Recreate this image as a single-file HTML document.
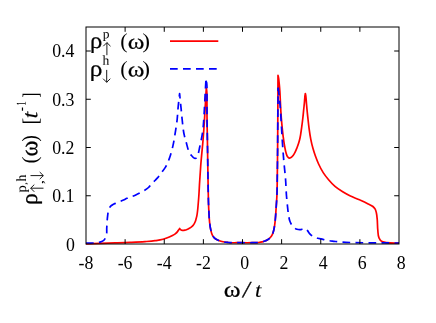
<!DOCTYPE html>
<html lang="en"><head><meta charset="utf-8"><title>Spectral density chart</title><style>
html,body{margin:0;padding:0;background:#fff;}
svg{display:block;will-change:transform}
text{font-family:"Liberation Serif",serif;fill:#000}
</style></head><body>
<svg width="436" height="323" viewBox="0 0 436 323">
<rect width="436" height="323" fill="#fff"/>
<g fill="none" stroke-linejoin="round" stroke-linecap="butt">
<path d="M86.00,243.80 C90.67,243.63 95.33,243.45 100.00,243.30 C105.00,243.14 110.00,243.05 115.00,242.90 C120.00,242.75 125.00,242.62 130.00,242.40 C135.00,242.18 140.01,241.98 145.00,241.60 C148.34,241.35 151.69,241.15 155.00,240.70 C157.68,240.33 160.40,240.02 163.00,239.30 C165.15,238.71 167.26,237.90 169.30,237.00 C170.55,236.45 171.81,235.88 173.00,235.20 C173.86,234.71 174.74,234.22 175.50,233.60 C176.23,233.01 176.90,232.32 177.50,231.60 C177.97,231.03 178.38,230.41 178.80,229.80 C179.09,229.37 179.37,228.93 179.65,228.50 C179.97,228.87 180.22,229.31 180.60,229.60 C180.92,229.85 181.31,230.07 181.70,230.20 C182.11,230.34 182.57,230.38 183.00,230.40 C183.60,230.43 184.21,230.32 184.80,230.20 C185.55,230.05 186.29,229.78 187.00,229.50 C187.83,229.17 188.63,228.75 189.40,228.30 C190.13,227.88 190.85,227.42 191.50,226.90 C192.07,226.44 192.63,225.95 193.10,225.40 C193.56,224.85 193.94,224.22 194.30,223.60 C194.68,222.93 195.02,222.22 195.30,221.50 C195.64,220.63 195.85,219.70 196.10,218.80 C196.35,217.90 196.60,217.01 196.80,216.10 C197.21,214.26 197.38,212.37 197.60,210.50 C197.86,208.34 198.01,206.17 198.20,204.00 C198.46,201.00 198.70,198.00 198.90,195.00 C199.15,191.34 199.28,187.67 199.50,184.00 C199.85,178.00 200.25,172.00 200.70,166.00 C201.38,157.06 202.40,148.14 203.10,139.20 C203.71,131.47 204.22,123.74 204.70,116.00 C205.03,110.67 205.29,105.33 205.60,100.00 C205.83,96.00 206.07,92.00 206.30,88.00 C206.45,89.00 206.63,90.00 206.75,91.00 C207.10,93.98 206.90,97.00 206.95,100.00 C207.03,105.33 206.95,110.67 207.00,116.00 C207.07,124.00 207.27,132.00 207.40,140.00 C207.54,148.67 207.66,157.33 207.80,166.00 C207.93,174.00 208.03,182.00 208.20,190.00 C208.29,194.33 208.35,198.67 208.50,203.00 C208.61,206.00 208.73,209.00 208.90,212.00 C209.09,215.44 209.20,218.89 209.60,222.30 C209.90,224.88 210.18,227.48 210.80,230.00 C211.25,231.83 211.56,233.79 212.50,235.40 C213.00,236.25 213.60,237.11 214.30,237.80 C215.23,238.72 216.43,239.41 217.60,240.00 C218.94,240.68 220.44,241.11 221.90,241.50 C223.98,242.06 226.16,242.27 228.30,242.50 C232.17,242.91 236.10,242.67 240.00,242.70 C244.00,242.73 248.00,242.78 252.00,242.70 C254.17,242.66 256.35,242.74 258.50,242.50 C259.74,242.36 260.99,242.20 262.20,241.90 C263.15,241.66 264.10,241.37 265.00,241.00 C265.89,240.63 266.78,240.21 267.60,239.70 C268.38,239.21 269.14,238.64 269.80,238.00 C270.43,237.40 271.02,236.72 271.50,236.00 C272.04,235.20 272.44,234.30 272.80,233.40 C273.24,232.31 273.52,231.15 273.80,230.00 C274.15,228.55 274.37,227.07 274.60,225.60 C274.91,223.58 275.10,221.54 275.30,219.50 C275.67,215.81 275.85,212.10 276.10,208.40 C276.38,204.27 276.70,200.14 276.90,196.00 C277.23,189.01 277.19,182.00 277.30,175.00 C277.43,166.67 277.52,158.33 277.60,150.00 C277.70,140.00 277.74,130.00 277.80,120.00 C277.89,105.10 277.93,90.20 278.00,75.30 C278.18,76.20 278.40,77.10 278.55,78.00 C278.75,79.16 278.86,80.33 279.00,81.50 C279.19,83.16 279.35,84.83 279.50,86.50 C279.66,88.33 279.78,90.17 279.90,92.00 C280.05,94.33 280.13,96.67 280.25,99.00 C280.47,103.33 280.62,107.67 280.90,112.00 C281.15,115.90 281.45,119.80 281.80,123.70 C282.17,127.84 282.57,131.98 283.10,136.10 C283.53,139.47 283.96,142.86 284.60,146.20 C285.04,148.48 285.38,150.80 286.10,153.00 C286.50,154.22 286.72,155.62 287.50,156.60 C287.96,157.18 288.54,157.99 289.20,158.10 C289.74,158.19 290.46,157.87 291.00,157.60 C291.86,157.17 292.49,156.27 293.10,155.50 C293.87,154.54 294.43,153.40 295.00,152.30 C295.77,150.82 296.38,149.25 297.00,147.70 C297.58,146.25 298.13,144.79 298.60,143.30 C299.10,141.72 299.52,140.11 299.90,138.50 C300.73,134.99 301.09,131.37 301.60,127.80 C302.09,124.37 302.51,120.94 302.90,117.50 C303.24,114.50 303.49,111.50 303.80,108.50 C303.96,106.93 304.15,105.37 304.30,103.80 C304.45,102.17 304.55,100.53 304.70,98.90 C304.81,97.67 304.87,96.42 305.05,95.20 C305.14,94.63 305.25,94.07 305.35,93.50 C305.47,94.07 305.60,94.63 305.70,95.20 C305.91,96.42 305.98,97.67 306.10,98.90 C306.26,100.53 306.36,102.17 306.50,103.80 C306.63,105.37 306.76,106.93 306.90,108.50 C307.18,111.57 307.52,114.63 307.85,117.70 C308.21,121.07 308.55,124.44 309.00,127.80 C309.51,131.64 310.04,135.50 310.80,139.30 C311.42,142.42 312.13,145.54 313.00,148.60 C313.74,151.19 314.58,153.76 315.50,156.30 C316.44,158.90 317.44,161.49 318.60,164.00 C319.96,166.95 321.44,169.88 323.20,172.60 C324.81,175.09 326.68,177.44 328.60,179.70 C330.60,182.05 332.67,184.39 335.00,186.40 C337.36,188.44 340.04,190.15 342.70,191.80 C345.18,193.33 347.77,194.74 350.40,196.00 C352.88,197.19 355.48,198.10 358.00,199.20 C358.83,199.56 359.67,199.93 360.50,200.30 C363.10,201.47 365.67,202.70 368.20,204.00 C369.78,204.81 371.58,205.36 372.90,206.50 C373.78,207.26 374.63,208.19 375.20,209.20 C375.84,210.33 376.09,211.71 376.40,213.00 C376.89,215.02 376.99,217.13 377.20,219.20 C377.57,222.78 377.40,226.42 377.80,230.00 C378.09,232.61 377.87,235.50 379.00,237.80 C379.60,239.02 380.37,240.40 381.40,241.20 C382.78,242.27 384.98,242.25 386.80,242.60 C390.78,243.36 394.93,243.00 399.00,243.20" stroke="#ff0000" stroke-width="1.7"/>
<g stroke="#0000ff" stroke-width="1.7" stroke-dasharray="7.7 5.3"><path d="M86.00,243.00 C88.33,243.00 90.67,243.07 93.00,243.00 C94.33,242.96 95.69,243.04 97.00,242.80 C97.67,242.68 98.34,242.49 99.00,242.30 C100.36,241.92 101.88,241.68 103.00,240.90 C104.07,240.15 104.93,238.92 105.60,237.80 C107.40,234.80 106.47,230.61 106.80,227.00 C107.13,223.37 107.09,219.70 107.60,216.10 C107.89,214.06 108.00,211.92 108.70,210.00 C109.20,208.64 109.71,207.12 110.70,206.10 C111.33,205.45 112.20,204.98 113.00,204.50 C113.98,203.91 115.06,203.48 116.10,203.00 C118.52,201.89 121.08,201.11 123.50,200.00 C124.68,199.46 125.82,198.83 127.00,198.30 C129.69,197.09 132.61,196.40 135.30,195.20 C137.59,194.18 139.84,193.06 142.00,191.80 C144.24,190.50 146.64,189.29 148.50,187.50 C149.33,186.70 150.02,185.76 150.80,184.90 C152.16,183.40 153.61,181.98 155.00,180.50 C156.17,179.26 157.41,178.06 158.50,176.75 C159.62,175.40 160.57,173.92 161.60,172.50 C162.90,170.70 164.36,168.99 165.50,167.10 C167.09,164.45 168.22,161.50 169.30,158.60 C170.24,156.05 170.99,153.42 171.70,150.80 C172.39,148.26 172.98,145.68 173.50,143.10 C174.05,140.38 174.46,137.64 174.90,134.90 C175.71,129.94 176.55,124.99 177.10,120.00 C177.56,115.88 177.71,111.73 178.10,107.60 C178.53,102.96 179.10,98.33 179.60,93.70 C180.07,98.33 180.54,102.97 181.00,107.60 C181.41,111.73 181.73,115.87 182.20,120.00 C182.77,124.98 183.13,130.01 184.20,134.90 C184.80,137.66 185.63,140.38 186.40,143.10 C187.13,145.68 187.59,148.38 188.70,150.80 C189.40,152.32 190.18,153.87 191.20,155.20 C191.80,155.98 192.42,156.81 193.20,157.40 C193.80,157.85 194.54,158.54 195.20,158.50 C195.73,158.47 196.39,158.01 196.80,157.60 C197.38,157.02 197.51,156.02 197.80,155.20 C198.21,154.03 198.46,152.81 198.75,151.60 C199.07,150.24 199.31,148.86 199.60,147.50 C199.89,146.16 200.21,144.84 200.50,143.50 C201.35,139.52 202.15,135.53 202.70,131.50 C203.26,127.36 203.49,123.17 203.80,119.00 C204.14,114.34 204.35,109.67 204.60,105.00 C204.81,101.00 204.99,97.00 205.20,93.00 C205.42,88.93 205.67,84.87 205.90,80.80"/><path d="M205.90,80.80 C206.12,81.30 206.39,81.79 206.55,82.30 C206.87,83.31 206.81,84.43 206.90,85.50 C207.17,88.65 206.98,91.83 207.00,95.00 C207.05,102.00 206.95,109.00 207.00,116.00 C207.06,124.00 207.27,132.00 207.40,140.00 C207.54,148.67 207.66,157.33 207.80,166.00 C207.93,174.00 208.03,182.00 208.20,190.00 C208.29,194.33 208.35,198.67 208.50,203.00 C208.61,206.00 208.73,209.00 208.90,212.00 C209.09,215.44 209.20,218.89 209.60,222.30 C209.90,224.88 210.18,227.48 210.80,230.00 C211.25,231.83 211.56,233.79 212.50,235.40 C213.00,236.25 213.60,237.11 214.30,237.80 C215.23,238.72 216.43,239.41 217.60,240.00 C218.94,240.68 220.44,241.11 221.90,241.50 C223.98,242.06 226.16,242.27 228.30,242.50 C232.17,242.91 236.10,242.67 240.00,242.70 C244.00,242.73 248.00,242.78 252.00,242.70 C254.17,242.66 256.35,242.74 258.50,242.50 C259.74,242.36 260.99,242.20 262.20,241.90 C263.15,241.66 264.10,241.37 265.00,241.00 C265.89,240.63 266.78,240.21 267.60,239.70 C268.38,239.21 269.14,238.64 269.80,238.00 C270.43,237.40 271.02,236.72 271.50,236.00 C272.04,235.20 272.44,234.30 272.80,233.40 C273.24,232.31 273.52,231.15 273.80,230.00 C274.15,228.55 274.37,227.07 274.60,225.60 C274.91,223.58 275.10,221.54 275.30,219.50 C275.67,215.81 275.85,212.10 276.10,208.40 C276.38,204.27 276.70,200.14 276.90,196.00 C277.23,189.01 277.19,182.00 277.30,175.00 C277.43,166.67 277.52,158.33 277.60,150.00 C277.70,140.00 277.71,130.00 277.80,120.00 C277.90,109.23 278.07,98.47 278.20,87.70"/><path d="M278.20,87.70 C278.67,91.80 279.20,95.89 279.60,100.00 C279.99,103.99 280.31,108.00 280.60,112.00 C280.88,115.90 281.07,119.80 281.30,123.70 C281.70,130.43 282.04,137.17 282.50,143.90 C282.89,149.57 283.32,155.24 283.80,160.90 C284.34,167.27 285.13,173.62 285.60,180.00 C285.99,185.33 286.06,190.68 286.50,196.00 C286.75,199.10 287.07,202.20 287.40,205.30 C287.73,208.40 287.96,211.53 288.50,214.60 C288.90,216.92 289.12,219.35 290.00,221.50 C290.79,223.42 291.81,225.48 293.30,226.90 C294.34,227.89 295.63,228.86 297.00,229.30 C297.94,229.60 299.01,229.77 300.00,229.70 C300.84,229.64 301.68,229.35 302.50,229.10 C303.18,228.90 303.83,228.37 304.50,228.40 C305.00,228.42 305.56,228.64 306.00,228.90 C306.63,229.27 307.03,230.01 307.50,230.60 C308.27,231.55 308.79,232.69 309.60,233.60 C310.32,234.41 311.12,235.18 312.00,235.80 C312.80,236.36 313.70,236.81 314.60,237.20 C315.69,237.68 316.85,238.01 318.00,238.30 C318.99,238.55 320.00,238.69 321.00,238.90 C322.91,239.31 324.78,239.92 326.70,240.30 C329.07,240.77 331.50,241.00 333.90,241.30 C336.03,241.56 338.16,241.81 340.30,242.00 C345.18,242.43 350.10,242.45 355.00,242.60 C361.66,242.80 368.33,242.83 375.00,242.90 C383.00,242.98 391.00,242.97 399.00,243.00"/></g>
<line x1="170" y1="41.2" x2="218.3" y2="41.2" stroke="#ff0000" stroke-width="1.7"/>
<line x1="170" y1="68.8" x2="217.5" y2="68.8" stroke="#0000ff" stroke-width="1.7" stroke-dasharray="7.7 5.3"/>
</g>
<g stroke="#000" stroke-width="1" fill="none">
<rect x="86" y="27" width="313" height="217"/>
<line x1="125.12" y1="244" x2="125.12" y2="239.2"/><line x1="125.12" y1="27" x2="125.12" y2="31.8"/><line x1="164.25" y1="244" x2="164.25" y2="239.2"/><line x1="164.25" y1="27" x2="164.25" y2="31.8"/><line x1="203.38" y1="244" x2="203.38" y2="239.2"/><line x1="203.38" y1="27" x2="203.38" y2="31.8"/><line x1="242.50" y1="244" x2="242.50" y2="239.2"/><line x1="242.50" y1="27" x2="242.50" y2="31.8"/><line x1="281.62" y1="244" x2="281.62" y2="239.2"/><line x1="281.62" y1="27" x2="281.62" y2="31.8"/><line x1="320.75" y1="244" x2="320.75" y2="239.2"/><line x1="320.75" y1="27" x2="320.75" y2="31.8"/><line x1="359.88" y1="244" x2="359.88" y2="239.2"/><line x1="359.88" y1="27" x2="359.88" y2="31.8"/><line x1="86" y1="195.75" x2="90.8" y2="195.75"/><line x1="399" y1="195.75" x2="394.2" y2="195.75"/><line x1="86" y1="147.50" x2="90.8" y2="147.50"/><line x1="399" y1="147.50" x2="394.2" y2="147.50"/><line x1="86" y1="99.25" x2="90.8" y2="99.25"/><line x1="399" y1="99.25" x2="394.2" y2="99.25"/><line x1="86" y1="51.00" x2="90.8" y2="51.00"/><line x1="399" y1="51.00" x2="394.2" y2="51.00"/>
</g>
<g font-size="17.8px"><text x="86.0" y="268.6" text-anchor="middle">-8</text><text x="125.1" y="268.6" text-anchor="middle">-6</text><text x="164.2" y="268.6" text-anchor="middle">-4</text><text x="203.4" y="268.6" text-anchor="middle">-2</text><text x="244.8" y="268.6" text-anchor="middle">0</text><text x="283.9" y="268.6" text-anchor="middle">2</text><text x="323.1" y="268.6" text-anchor="middle">4</text><text x="362.2" y="268.6" text-anchor="middle">6</text><text x="401.3" y="268.6" text-anchor="middle">8</text><text x="74.9" y="250.8" text-anchor="end">0</text><text x="74.4" y="202.1" text-anchor="end">0.1</text><text x="74.4" y="153.8" text-anchor="end">0.2</text><text x="74.4" y="105.5" text-anchor="end">0.3</text><text x="74.4" y="57.3" text-anchor="end">0.4</text></g>
<text transform="matrix(0.24617,0.0002,-0.0002,0.23016,90.013,48.100)" font-size="100px" stroke="#000" stroke-width="1.05">ρ</text><text transform="matrix(0.13488,0.0002,-0.0002,0.13156,102.683,38.199)" font-size="100px">p</text><text transform="matrix(0.22193,0.0002,-0.0002,0.21285,120.325,47.969)" font-size="100px">(</text><text transform="matrix(0.25341,0.0002,-0.0002,0.21734,127.810,48.688)" font-size="100px" stroke="#000" stroke-width="1.06">ω</text><text transform="matrix(0.23361,0.0002,-0.0002,0.21285,142.247,47.969)" font-size="100px">)</text><text transform="matrix(0.25378,0.0002,-0.0002,0.23016,89.664,76.000)" font-size="100px" stroke="#000" stroke-width="1.03">ρ</text><text transform="matrix(0.13625,0.0002,-0.0002,0.13548,102.567,64.800)" font-size="100px">h</text><text transform="matrix(0.22193,0.0002,-0.0002,0.21285,120.325,75.869)" font-size="100px">(</text><text transform="matrix(0.25341,0.0002,-0.0002,0.21734,127.810,76.588)" font-size="100px" stroke="#000" stroke-width="1.06">ω</text><text transform="matrix(0.23361,0.0002,-0.0002,0.21285,142.247,75.869)" font-size="100px">)</text><text transform="matrix(0.25514,0.0002,-0.0002,0.22570,223.703,296.780)" font-size="100px" stroke="#000" stroke-width="1.04">ω</text><text transform="matrix(0.24256,0.0002,-0.0002,0.23171,243.013,297.274)" font-size="100px" font-style="italic" stroke="#000" stroke-width="1.27">/</text><text transform="matrix(0.22843,0.0002,-0.0002,0.20253,254.896,296.802)" font-size="100px" font-style="italic" stroke="#000" stroke-width="0.70">t</text><text transform="matrix(0.0002,-0.23601,0.23309,-0.0002,36.938,205.021)" font-size="100px" stroke="#000" stroke-width="1.07">ρ</text><text transform="matrix(0.0002,-0.14613,0.13887,-0.0002,25.944,192.535)" font-size="100px">p</text><text transform="matrix(0.0002,-0.12087,0.10123,-0.0002,26.443,184.960)" font-size="100px">,</text><text transform="matrix(0.0002,-0.13835,0.14124,-0.0002,26.000,181.535)" font-size="100px">h</text><text transform="matrix(0.0002,-0.17458,0.13238,-0.0002,43.164,184.265)" font-size="100px">,</text><text transform="matrix(0.0002,-0.21025,0.21506,-0.0002,36.722,163.524)" font-size="100px">(</text><text transform="matrix(0.0002,-0.24135,0.24869,-0.0002,37.357,156.543)" font-size="100px" stroke="#000" stroke-width="1.02">ω</text><text transform="matrix(0.0002,-0.20246,0.21506,-0.0002,36.722,141.652)" font-size="100px">)</text><text transform="matrix(0.0002,-0.20211,0.21990,-0.0002,37.658,124.600)" font-size="100px">[</text><text transform="matrix(0.0002,-0.23237,0.21650,-0.0002,37.189,118.321)" font-size="100px" font-style="italic" stroke="#000" stroke-width="0.67">t</text><text transform="matrix(0.0002,-0.12704,0.16063,-0.0002,26.184,111.271)" font-size="100px">-</text><text transform="matrix(0.0002,-0.09090,0.13785,-0.0002,25.700,105.699)" font-size="100px">1</text><text transform="matrix(0.0002,-0.14372,0.21990,-0.0002,37.658,97.619)" font-size="100px">]</text>
<g stroke="#000" stroke-width="0.9" fill="none" stroke-linecap="butt" stroke-linejoin="miter">
<path d="M106.90,55.20 L106.90,42.60 M110.50,46.20 L106.90,42.60 L103.30,46.20"/><path d="M106.70,69.90 L106.70,82.30 M103.10,78.70 L106.70,82.30 L110.30,78.70"/><path d="M43.50,188.20 L30.70,188.20 M34.30,184.60 L30.70,188.20 L34.30,191.80"/><path d="M30.50,175.60 L43.30,175.60 M39.70,179.20 L43.30,175.60 L39.70,172.00"/>
</g>
</svg>
</body></html>
